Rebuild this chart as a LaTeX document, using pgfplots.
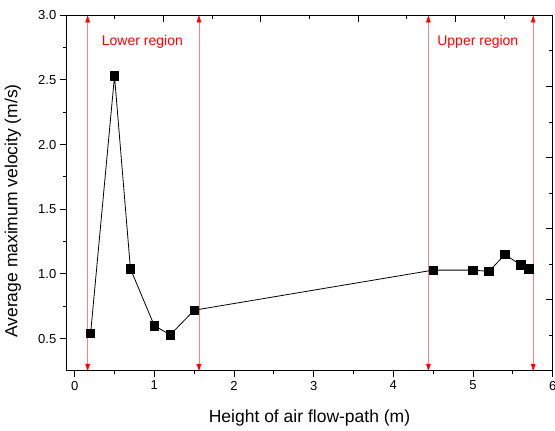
\documentclass[border=0pt]{standalone}
\usepackage{fontspec}
\setmainfont{Liberation Sans}
\usepackage{pgfplots}
\pgfplotsset{compat=1.18}
\usetikzlibrary{arrows.meta}

\begin{document}
\begin{tikzpicture}
\useasboundingbox (0,0) rectangle (555pt,431pt);
% main axis: left/bottom ticks outside
\begin{axis}[
  at={(66.3pt,60pt)}, anchor=south west,
  width=486.4pt, height=355.7pt, scale only axis,
  xmin=-0.105, xmax=6, ymin=0.25, ymax=3.0,
  xtick={0,1,2,3,4,5,6}, ytick={0.5,1,1.5,2,2.5,3},
  minor x tick num=1, minor y tick num=1,
  xtick pos=bottom, ytick pos=left,
  tick align=outside,
  major tick length=6.5pt, minor tick length=3.5pt,
  axis line style={line width=1pt},
  every tick/.style={black, line width=1pt},
  /pgf/number format/assume math mode=true,
  ticklabel style={font=\fontsize{13}{13}\selectfont},
  yticklabel style={/pgf/number format/fixed, /pgf/number format/fixed zerofill, /pgf/number format/precision=1},
  xlabel={Height of air flow-path (m)},
  ylabel={Average maximum velocity (m/s)},
  label style={font=\fontsize{17.5}{17.5}\selectfont},
  xlabel style={at={(axis description cs:0.5,-0.1434)}, anchor=base},
  ylabel style={at={(axis description cs:-0.11,0.45)}, anchor=center},
  clip=false,
]
% region boundaries
\addplot[red!50, line width=0.5pt, {Triangle[length=7pt,width=4.5pt,red]}-{Triangle[length=7pt,width=4.5pt,red]}] coordinates {(0.163,0.25) (0.163,3.0)};
\addplot[red!50, line width=0.5pt, {Triangle[length=7pt,width=4.5pt,red]}-{Triangle[length=7pt,width=4.5pt,red]}] coordinates {(1.56,0.25) (1.56,3.0)};
\addplot[red!50, line width=0.5pt, {Triangle[length=7pt,width=4.5pt,red]}-{Triangle[length=7pt,width=4.5pt,red]}] coordinates {(4.44,0.25) (4.44,3.0)};
\addplot[red!50, line width=0.5pt, {Triangle[length=7pt,width=4.5pt,red]}-{Triangle[length=7pt,width=4.5pt,red]}] coordinates {(5.755,0.25) (5.755,3.0)};
\node[red, font=\fontsize{14}{14}\selectfont, anchor=base] at (axis cs:0.85,2.765) {Lower region};
\node[red, font=\fontsize{14}{14}\selectfont, anchor=base] at (axis cs:5.06,2.765) {Upper region};

\addplot[black, line width=0.8pt, mark=square*, mark size=4.2pt, mark options={solid, fill=black}] coordinates {
(0.2,0.54) (0.5,2.53) (0.7,1.04) (1.0,0.60) (1.2,0.53) (1.5,0.72)
(4.5,1.03) (5.0,1.03) (5.2,1.02) (5.4,1.15) (5.6,1.07) (5.7,1.04)
};
\end{axis}
% mirror axis: top/right ticks inside, own spacing
\begin{axis}[
  at={(66.3pt,60pt)}, anchor=south west,
  width=486.4pt, height=355.7pt, scale only axis,
  xmin=0, xmax=5, ymin=0, ymax=5,
  xtick={0,1,2,3,4,5}, ytick={0,1,2,3,4,5},
  minor x tick num=1, minor y tick num=1,
  xtick pos=top, ytick pos=right,
  tick align=inside,
  xticklabels={}, yticklabels={},
  major tick length=7pt, minor tick length=4pt,
  axis line style={line width=1pt},
  every tick/.style={black, line width=1pt},
]
\end{axis}
\end{tikzpicture}
\end{document}
